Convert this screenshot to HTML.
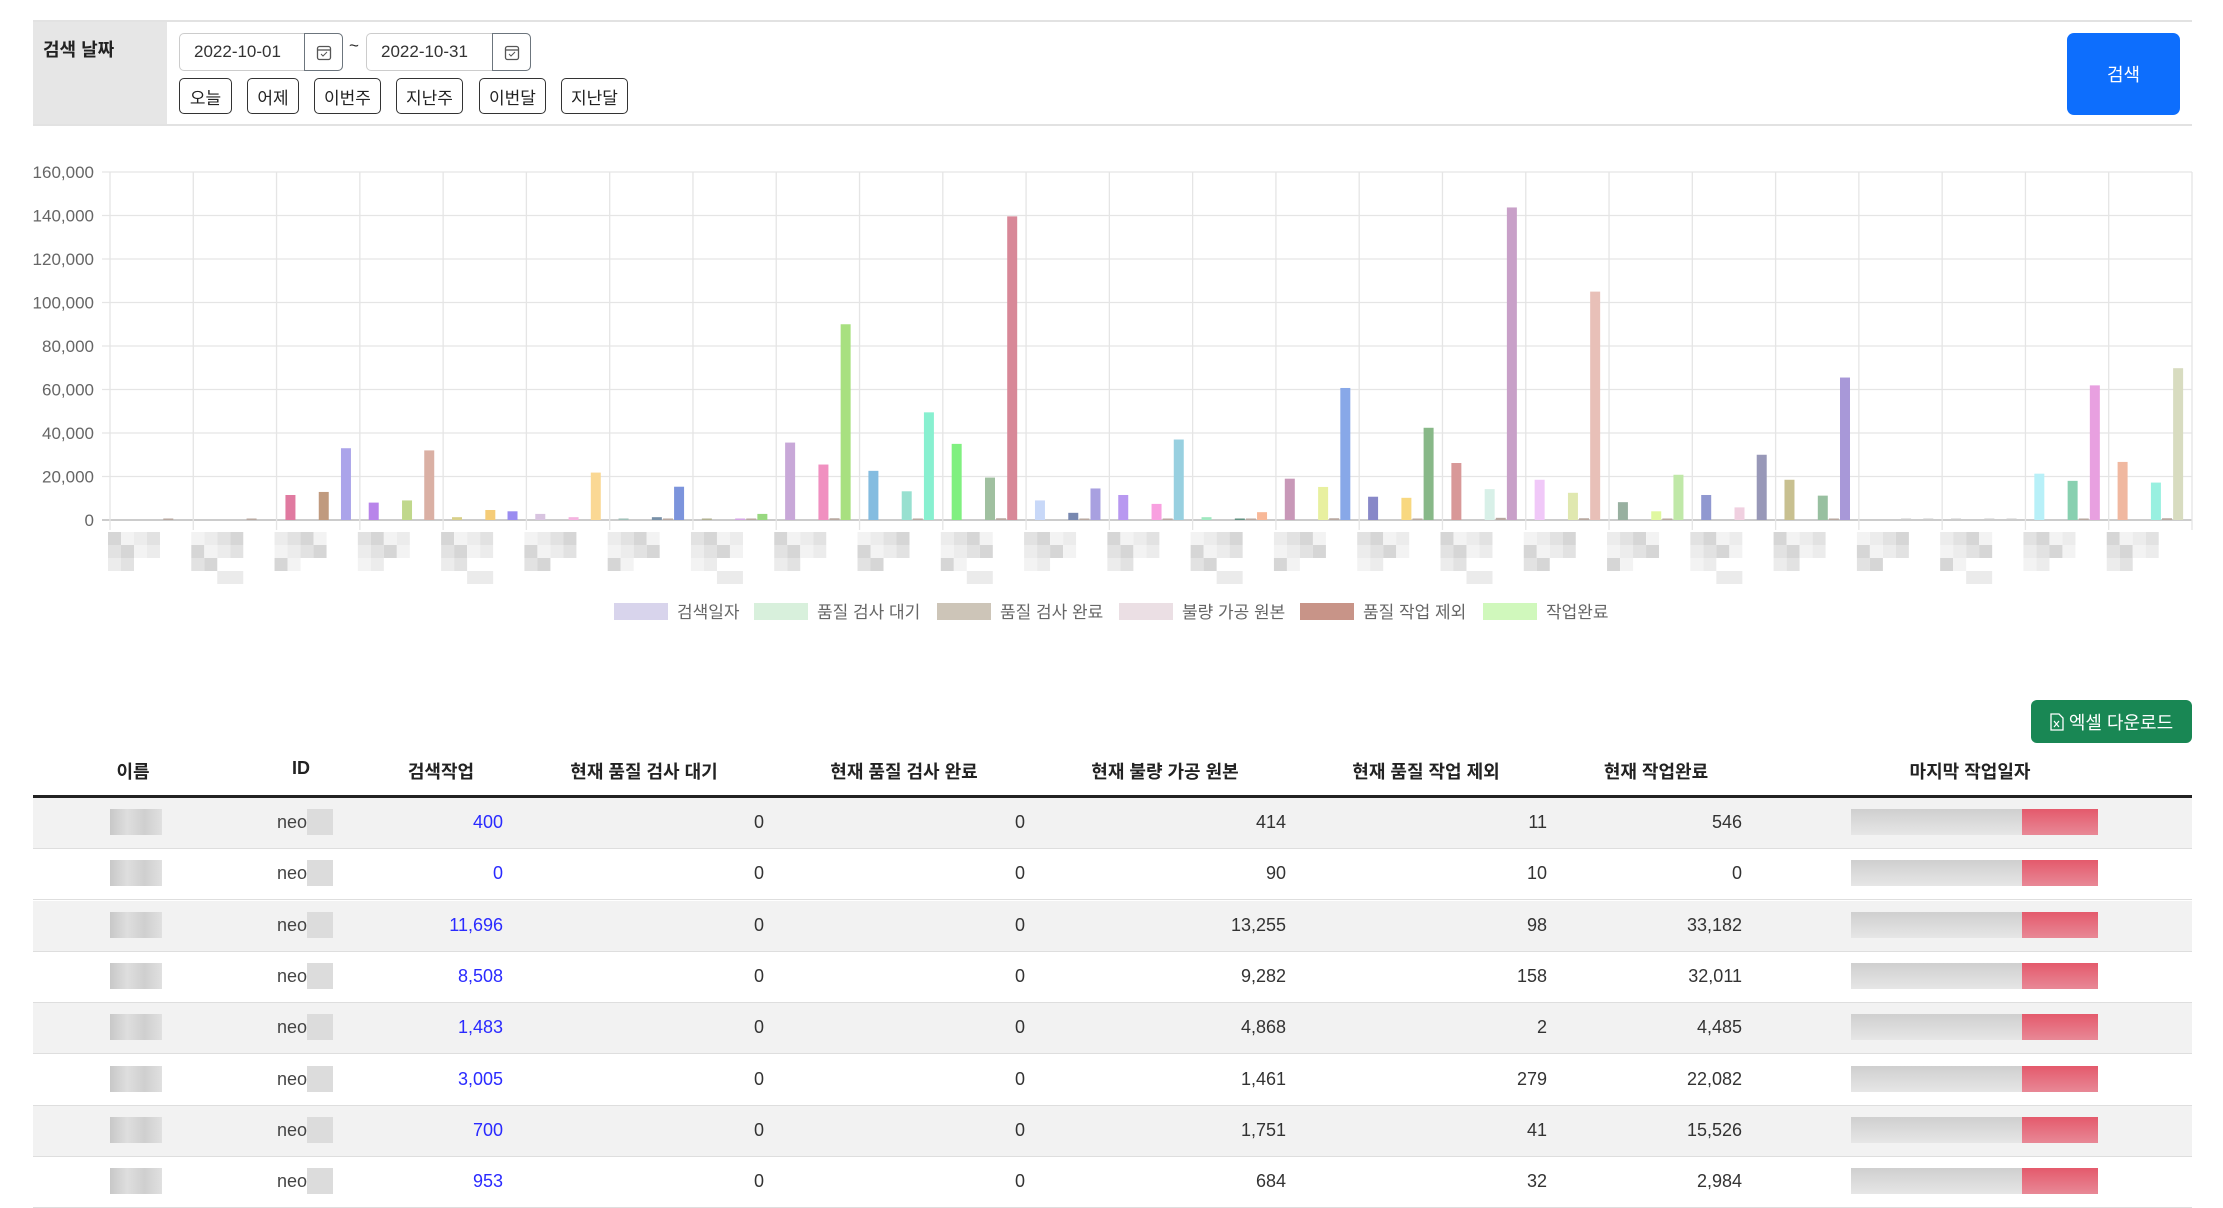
<!DOCTYPE html>
<html><head><meta charset="utf-8">
<style>
*{margin:0;padding:0;box-sizing:border-box}
body{width:2223px;height:1205px;overflow:hidden;background:#fff;font-family:"Liberation Sans","Noto Sans CJK KR",sans-serif;color:#222;position:relative}
.a{position:absolute}
.btn{position:absolute;top:78px;height:36px;border:1.5px solid #333;border-radius:5px;background:#fff;font-size:17px;display:flex;align-items:center;justify-content:center;color:#222}
.inp{position:absolute;top:33px;height:38px;border:1px solid #ccc;border-radius:5px;font-size:17px;display:flex;align-items:center;padding-left:14px;color:#333}
.cal{position:absolute;top:-1px;right:-1px;width:39px;height:38px;border:1px solid #6c757d;border-radius:0 5px 5px 0;display:flex;align-items:center;justify-content:center}
.th{position:absolute;top:758px;font-size:18px;font-weight:bold;transform:translateX(-50%);white-space:nowrap;color:#222}
.row{position:absolute;left:33px;width:2159px;height:51px;border-bottom:1.5px solid #dedede}
.v{position:absolute;font-size:18px;top:14px;text-align:right;color:#333}
.blur{position:absolute;background:#d4d4d4}
</style></head><body>
<div class="a" style="left:33px;top:20px;width:2159px;height:2px;background:#e2e2e2"></div>
<div class="a" style="left:33px;top:124px;width:2159px;height:2px;background:#e2e2e2"></div>
<div class="a" style="left:33px;top:22px;width:134px;height:102px;background:#e6e6e6"></div>
<div class="a" style="left:43px;top:36px;font-size:18px;font-weight:bold">검색 날짜</div>
<div class="inp" style="left:179px;width:164px">2022-10-01<div class="cal"><svg width="16" height="18"><rect x="1.5" y="3.5" width="13" height="13" rx="2" fill="none" stroke="#555" stroke-width="1.3"/><line x1="1.5" y1="7" x2="14.5" y2="7" stroke="#555" stroke-width="1.3"/><path d="M5 11l2 2 4-4" fill="none" stroke="#555" stroke-width="1"/></svg></div></div>
<div class="a" style="left:349px;top:36px;font-size:17px">~</div>
<div class="inp" style="left:366px;width:165px">2022-10-31<div class="cal"><svg width="16" height="18"><rect x="1.5" y="3.5" width="13" height="13" rx="2" fill="none" stroke="#555" stroke-width="1.3"/><line x1="1.5" y1="7" x2="14.5" y2="7" stroke="#555" stroke-width="1.3"/><path d="M5 11l2 2 4-4" fill="none" stroke="#555" stroke-width="1"/></svg></div></div>
<div class="btn" style="left:179px;width:53px">오늘</div>
<div class="btn" style="left:247px;width:52px">어제</div>
<div class="btn" style="left:314px;width:67px">이번주</div>
<div class="btn" style="left:396px;width:67px">지난주</div>
<div class="btn" style="left:479px;width:67px">이번달</div>
<div class="btn" style="left:561px;width:67px">지난달</div>
<div class="a" style="left:2067px;top:33px;width:113px;height:82px;background:#0d6efd;border-radius:7px;color:#fff;font-size:18px;display:flex;align-items:center;justify-content:center">검색</div>

<svg class="a" style="left:0;top:0" width="2223" height="700" id="ch"></svg>

<div class="a" style="left:2031px;top:700px;width:161px;height:43px;background:#198754;border-radius:6px;color:#fff;font-size:18px;display:flex;align-items:center;justify-content:center;gap:5px"><svg width="14" height="18"><path d="M1 1h8l4 4v12H1z" fill="none" stroke="#fff" stroke-width="1.3"/><path d="M4 8l5 6M9 8l-5 6" stroke="#fff" stroke-width="1.2"/></svg>엑셀 다운로드</div>

<div class="th" style="left:133px">이름</div>
<div class="th" style="left:301px">ID</div>
<div class="th" style="left:441px">검색작업</div>
<div class="th" style="left:644px">현재 품질 검사 대기</div>
<div class="th" style="left:904px">현재 품질 검사 완료</div>
<div class="th" style="left:1165px">현재 불량 가공 원본</div>
<div class="th" style="left:1426px">현재 품질 작업 제외</div>
<div class="th" style="left:1656px">현재 작업완료</div>
<div class="th" style="left:1970px">마지막 작업일자</div>
<div class="a" style="left:33px;top:795px;width:2159px;height:3px;background:#222"></div>
<div id="tb"></div>

<script>
var svg=document.getElementById('ch'),h='';
var L=110,R=2192,T=172,Z=520,cw=(R-L)/25;
function y(v){return Z-(v/160)*(Z-T);}
for(var i=0;i<=8;i++){var yy=y(i*20);h+='<line x1="'+(L-8)+'" x2="'+R+'" y1="'+yy+'" y2="'+yy+'" stroke="'+(i==0?'#ccc':'#e5e5e5')+'" stroke-width="'+(i==0?2:1.3)+'"/>';
var lab=(i*20)==0?'0':(i*20)+',000';h+='<text x="94" y="'+(yy+6)+'" font-size="17" fill="#666" text-anchor="end" font-family="Liberation Sans">'+lab+'</text>';}
for(var c=0;c<=25;c++){var xx=L+c*cw;h+='<line x1="'+xx+'" x2="'+xx+'" y1="'+T+'" y2="'+(Z+10)+'" stroke="#e5e5e5" stroke-width="1.3"/>';}
var D=[[0,0,0,0.3],[0,0,0,0.2],[11.5,12.9,33,0],[8,9,32,0],[1.3,4.6,4,0],[2.8,1.3,21.8,0],[0.7,1.3,15.3,0.3],[0.6,0.6,2.8,0.2],[35.6,25.5,90,0.8],[22.6,13.2,49.5,0.6],[35,19.5,139.6,0.8],[9,3.3,14.5,0.3],[11.5,7.4,37,0.5],[1.3,0.6,3.6,0.2],[19,15.2,60.7,0.8],[10.7,10.2,42.4,0.6],[26.2,14.2,143.7,1],[18.5,12.5,105,0.8],[8.2,4,20.8,0.3],[11.5,5.8,30,0],[18.5,11.2,65.5,0.6],[0,0.2,0.2,0],[0.3,0.2,0.3,0],[21.3,18,61.9,0.6],[26.7,17.2,69.8,0.8]];
var C=[['#ccc','#ccc','#ccc'],['#ccc','#ccc','#ccc'],['#e07aa0','#c09a7e','#aba4ea'],['#b884ea','#c0d88c','#dab0a4'],['#d8d08a','#f5cc78','#9a8cf0'],['#d8c4e0','#f5b4e0','#fad894'],['#a0c0b8','#7890a8','#7c94dc'],['#b0b090','#d4a4e4','#98d880'],['#c8a8d8','#f090c0','#a8e080'],['#84bce0','#98e0d0','#88f0d0'],['#80f080','#a0c0a0','#d88898'],['#c8d8f8','#7888b0','#a8a0e0'],['#b898f0','#f8a0e0','#98d0e0'],['#a0e8c0','#609080','#f8b898'],['#c898b8','#e8f0a0','#88a8e8'],['#8888c8','#f8d880','#88b888'],['#d89898','#d8f0e8','#c8a0c8'],['#f0c8f8','#e0e8b0','#e8c0b8'],['#98b0a0','#e0f8a0','#c0e8a8'],['#9098d0','#f0d0e0','#9898b8'],['#c8c090','#98c0a0','#a898d8'],['#ccc','#ccc','#ccc'],['#ccc','#ccc','#ccc'],['#b8f0f8','#88d0b0','#e8a0e0'],['#f0b8a0','#98f0e0','#d8dcc0']];
var sl=cw*0.8/6,bw=sl*0.9;
for(var c=0;c<25;c++){var x0=L+c*cw+cw*0.1;var d=D[c];
var bars=[[0,d[0],C[c][0]],[3,d[1],C[c][1]],[5,d[2],C[c][2]],[4,d[3],'#b8a8a0']];
bars.forEach(function(b){if(b[1]<=0)return;var bx=x0+b[0]*sl+(sl-bw)/2,top=y(b[1]);var hh=Math.max(Z-top,1.5);h+='<rect x="'+bx+'" y="'+(Z-hh)+'" width="'+bw+'" height="'+hh+'" fill="'+b[2]+'"/>';});
var lx=L+c*cw-2;var g=['#d6d6d6','#e2e2e2','#ececec','#f3f3f3'];
for(var r=0;r<3;r++)for(var k=0;k<4;k++){var gc=g[(c*3+r*5+k*7)%4];if(r==2&&k>1)continue;h+='<rect x="'+(lx+k*13)+'" y="'+(532+r*13)+'" width="13" height="13" fill="'+gc+'"/>';}
if(c%3==1){h+='<rect x="'+(lx+26)+'" y="571" width="26" height="13" fill="#ebebeb"/>';}
}
var lg=[[614,'#d8d4ec','검색일자'],[754,'#d8f0dc','품질 검사 대기'],[937,'#cdc5b8','품질 검사 완료'],[1119,'#ebdfe4','불량 가공 원본'],[1300,'#c89488','품질 작업 제외'],[1483,'#d0f8bc','작업완료']];
lg.forEach(function(l){h+='<rect x="'+l[0]+'" y="603" width="54" height="17" fill="'+l[1]+'"/><text x="'+(l[0]+63)+'" y="618" font-size="17" fill="#666" font-family="Liberation Sans, Noto Sans CJK KR, sans-serif">'+l[2]+'</text>';});
svg.innerHTML=h;
var rows=[['400','414','11','546'],['0','90','10','0'],['11,696','13,255','98','33,182'],['8,508','9,282','158','32,011'],['1,483','4,868','2','4,485'],['3,005','1,461','279','22,082'],['700','1,751','41','15,526'],['953','684','32','2,984']];
var t='';
rows.forEach(function(r,i){var top=798+i*51.3;
t+='<div class="row" style="top:'+top+'px;background:'+(i%2==0?'#f2f2f2':'#fff')+'">';
t+='<div class="blur" style="left:77px;top:11px;width:52px;height:26px;background:linear-gradient(90deg,#c8c8c8,#dedede,#cfcfcf,#e0e0e0)"></div>';
t+='<div class="v" style="left:238px;width:36px;color:#444">neo</div><div class="blur" style="left:274px;top:11px;width:26px;height:26px;background:#dcdcdc"></div>';
t+='<div class="v" style="right:1689px;color:#2a2aff">'+r[0]+'</div>';
t+='<div class="v" style="right:1428px">0</div>';
t+='<div class="v" style="right:1167px">0</div>';
t+='<div class="v" style="right:906px">'+r[1]+'</div>';
t+='<div class="v" style="right:645px">'+r[2]+'</div>';
t+='<div class="v" style="right:450px">'+r[3]+'</div>';
t+='<div class="blur" style="left:1818px;top:11px;width:171px;height:26px;background:linear-gradient(180deg,#cfcfcf,#e6e6e6)"></div>';
t+='<div class="blur" style="left:1989px;top:11px;width:76px;height:26px;background:linear-gradient(180deg,#e45a6c,#e88896)"></div>';
t+='</div>';});
document.getElementById('tb').innerHTML=t;
</script>
</body></html>
